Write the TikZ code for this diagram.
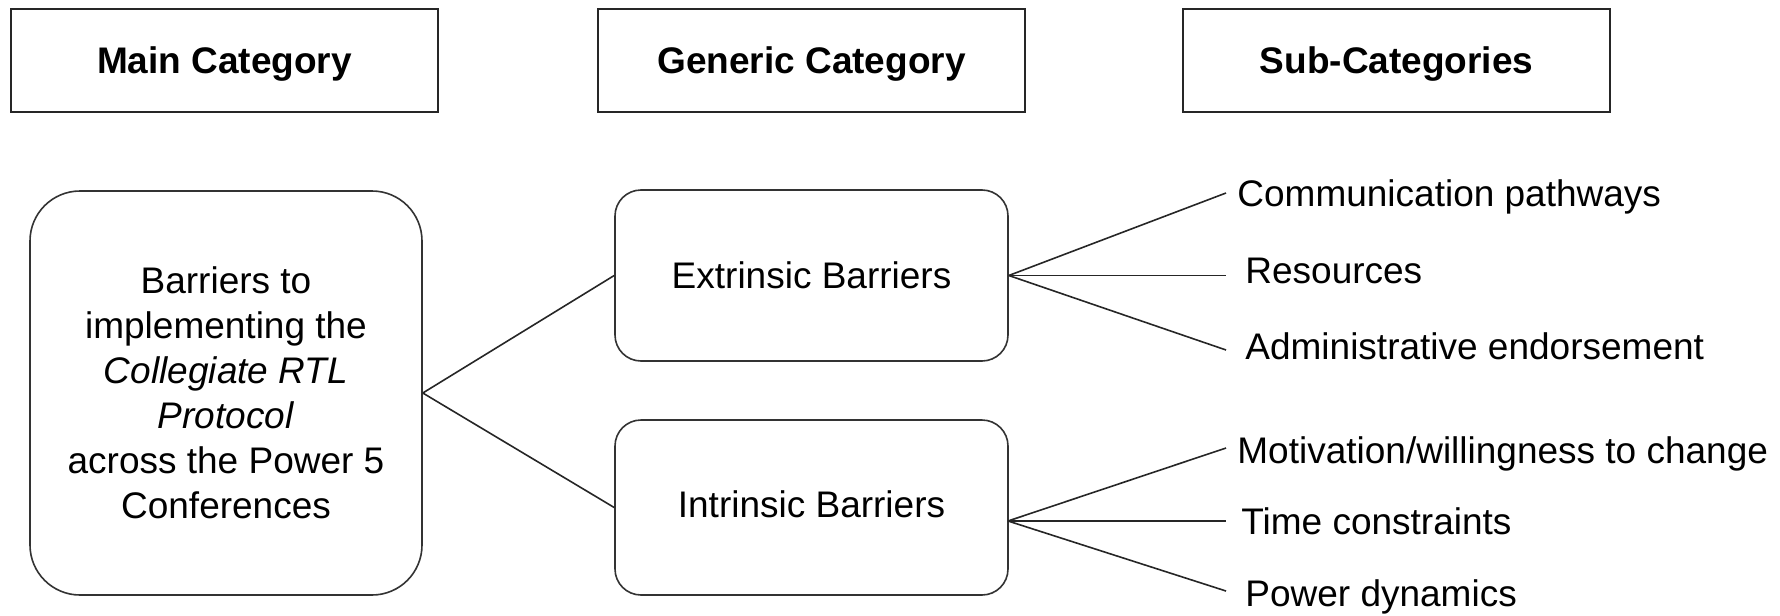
\documentclass[tikz,border=0pt]{standalone}
\usepackage{fontspec}
\setmainfont{Liberation Sans}
\begin{document}
\begin{tikzpicture}[x=0.5pt,y=-0.5pt,
  txt/.style={font=\fontsize{18.5}{22.5}\selectfont},
  hdr/.style={draw=black!85, line width=0.9pt, minimum width=213.5pt, minimum height=51.5pt, inner sep=0pt, text depth=0pt, font=\fontsize{18.5}{22.5}\selectfont\bfseries},
  rbox/.style={draw=black!80, line width=0.8pt, inner sep=0pt, align=center, txt},
  conn/.style={draw=black!85, line width=0.8pt},
  lbl/.style={anchor=base west, inner sep=0pt, txt}]
\useasboundingbox (0,0) rectangle (1780,615);
% headers
\node[hdr] (h1) at (224.5,60.5) {Main Category};
\node[hdr] (h2) at (811.5,60.5) {Generic Category};
\node[hdr] (h3) at (1396.5,60.5) {Sub-Categories};
% main box
\node[rbox, rounded corners=25pt, minimum width=196pt, minimum height=202pt] (main) at (226,393)
  {Barriers to\\implementing the\\\textit{Collegiate RTL}\\\textit{Protocol}\\across the Power 5\\Conferences};
\node[rbox, rounded corners=13pt, minimum width=196.5pt, minimum height=85.5pt] (ext) at (811.5,275.5) {Extrinsic Barriers};
\node[rbox, rounded corners=13pt, minimum width=196.5pt, minimum height=87.5pt] (int) at (811.5,507.5) {};
\node[txt, inner sep=0pt] (intt) at (811.5,504) {Intrinsic Barriers};
\coordinate (ir) at (1008,521);
% line ends
\coordinate (e1) at (1226,193);
\coordinate (e2) at (1226,275.5);
\coordinate (e3) at (1226,350);
\coordinate (i1) at (1226,448);
\coordinate (i2) at (1226,521);
\coordinate (i3) at (1226,591);
% labels
\node[lbl] (l1) at (1237,206) {Communication pathways};
\node[lbl] (l2) at (1245,283) {Resources};
\node[lbl] (l3) at (1245,359) {Administrative endorsement};
\node[lbl] (l4) at (1237,463) {Motivation/willingness to change};
\node[lbl] (l5) at (1241,534) {Time constraints};
\node[lbl] (l6) at (1245,606) {Power dynamics};
% connectors
\draw[conn] (main.east) -- (ext.west);
\draw[conn] (main.east) -- (int.west);
\draw[conn] (ext.east) -- (e1);
\draw[conn] (ext.east) -- (e2);
\draw[conn] (ext.east) -- (e3);
\draw[conn] (ir) -- (i1);
\draw[conn] (ir) -- (i2);
\draw[conn] (ir) -- (i3);
\end{tikzpicture}
\end{document}
